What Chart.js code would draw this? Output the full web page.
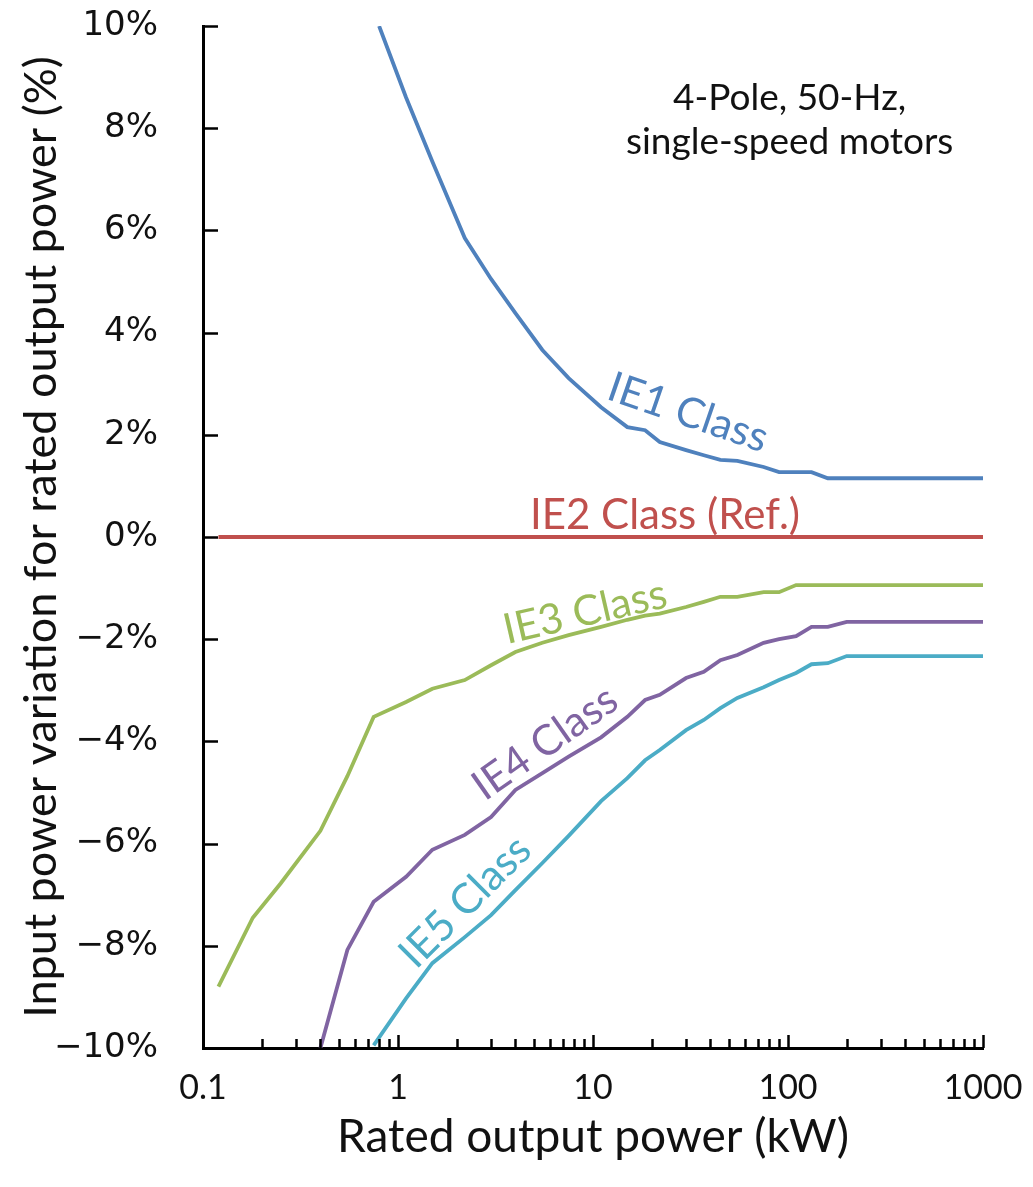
<!DOCTYPE html>
<html>
<head>
<meta charset="utf-8">
<script src="https://cdn.jsdelivr.net/npm/chart.js@4/dist/chart.umd.min.js"></script>
<style>
  html, body { margin: 0; padding: 0; background: #ffffff; }
  #wrap { width: 1033px; height: 1187px; }
</style>
</head>
<body>
<div id="wrap"><canvas id="c" width="1033" height="1187"></canvas></div>
<script>
// Input power change relative to IE2, by rated output (kW), 4-pole 50 Hz motors
const ie1Power = [0.8, 1.1, 1.5, 2.2, 3, 4, 5.5, 7.5, 11, 15, 18.5, 22, 30, 37, 45, 55, 75, 90, 110, 132, 160, 1000];
const ie1Delta = [10.0, 8.6, 7.35, 5.85, 5.05, 4.38, 3.66, 3.11, 2.54, 2.15, 2.09, 1.86, 1.70, 1.60, 1.51, 1.49, 1.37, 1.27, 1.27, 1.27, 1.15, 1.15];

const ie2Power = [0.12, 1000];
const ie2Delta = [0, 0];

const ie3Power = [0.12, 0.18, 0.25, 0.4, 0.55, 0.75, 1.1, 1.5, 2.2, 3, 4, 5.5, 7.5, 11, 15, 18.5, 22, 30, 37, 45, 55, 75, 90, 110, 1000];
const ie3Delta = [-8.8, -7.45, -6.78, -5.75, -4.68, -3.52, -3.23, -2.97, -2.8, -2.51, -2.25, -2.07, -1.92, -1.76, -1.62, -1.54, -1.5, -1.37, -1.27, -1.17, -1.17, -1.08, -1.08, -0.94, -0.94];

const ie4Power = [0.4, 0.55, 0.75, 1.1, 1.5, 2.2, 3, 4, 5.5, 7.5, 11, 15, 18.5, 22, 30, 37, 45, 55, 75, 90, 110, 132, 160, 200, 1000];
const ie4Delta = [-10.0, -8.08, -7.14, -6.65, -6.12, -5.83, -5.48, -4.95, -4.62, -4.30, -3.92, -3.52, -3.19, -3.09, -2.76, -2.64, -2.41, -2.31, -2.07, -2.0, -1.94, -1.76, -1.76, -1.66, -1.66];

const ie5Power = [0.75, 1.1, 1.5, 2.2, 3, 4, 5.5, 7.5, 11, 15, 18.5, 22, 30, 37, 45, 55, 75, 90, 110, 132, 160, 200, 1000];
const ie5Delta = [-9.95, -9.03, -8.34, -7.83, -7.40, -6.91, -6.38, -5.85, -5.17, -4.72, -4.37, -4.17, -3.78, -3.58, -3.35, -3.15, -2.94, -2.80, -2.66, -2.49, -2.47, -2.33, -2.33];

const seriesNames = ['IE1 Class', 'IE2 Class (Ref.)', 'IE3 Class', 'IE4 Class', 'IE5 Class'];
const xTickLabels = ['0.1', '1', '10', '100', '1000'];
const yTickValues = [-10, -8, -6, -4, -2, 0, 2, 4, 6, 8, 10];

const colors = ['#4F81BD', '#C0504D', '#9BBB59', '#8064A2', '#4BACC6'];

function toPoints(xs, ys) {
  return xs.map((x, i) => ({ x: x, y: ys[i] }));
}

const seriesPairs = [
  [ie1Power, ie1Delta],
  [ie2Power, ie2Delta],
  [ie3Power, ie3Delta],
  [ie4Power, ie4Delta],
  [ie5Power, ie5Delta]
];

const datasets = seriesPairs.map((p, i) => ({
  label: seriesNames[i],
  data: toPoints(p[0], p[1]),
  borderColor: colors[i],
  backgroundColor: colors[i],
  borderWidth: 3.8,
  pointRadius: 0,
  tension: 0,
  fill: false
}));

// In-plot labels, placed in data units (kW, %)
const curveLabels = [
  { i: 0, x: 30.7, y: 2.43, angle: 19 },
  { i: 1, x: 23.4, y: 0.43, angle: 0 },
  { i: 2, x: 9.1, y: -1.47, angle: -13 },
  { i: 3, x: 5.68, y: -4.03, angle: -35 },
  { i: 4, x: 2.21, y: -7.14, angle: -45 }
];
const noteLines = ['4-Pole, 50-Hz,', 'single-speed motors'];

const PLOT_LEFT = 203;
const PLOT_BOTTOM = 1048;

// Inward tick marks on both axes
const inwardTicks = {
  id: 'inwardTicks',
  afterDraw(chart) {
    const ctx = chart.ctx;
    const xs = chart.scales.x, ys = chart.scales.y;
    const area = chart.chartArea;
    ctx.save();
    ctx.strokeStyle = '#000';
    ctx.lineWidth = 2.5;
    ctx.beginPath();
    yTickValues.forEach(v => {
      const py = Math.round(ys.getPixelForValue(v)) + 0.5;
      ctx.moveTo(area.left, py);
      ctx.lineTo(area.left + 15, py);
    });
    for (let d = -1; d < 3; d++) {
      for (let m = 2; m <= 10; m++) {
        const v = m * Math.pow(10, d);
        const px = Math.round(xs.getPixelForValue(v)) + 0.5;
        const len = (m === 10) ? 13 : 9;
        ctx.moveTo(px, area.bottom);
        ctx.lineTo(px, area.bottom - len);
      }
    }
    ctx.stroke();
    ctx.restore();
  }
};

// Curve names and the motor note
const textLayer = {
  id: 'textLayer',
  afterDatasetsDraw(chart) {
    const ctx = chart.ctx;
    const xs = chart.scales.x, ys = chart.scales.y;
    ctx.save();
    ctx.textAlign = 'center';
    ctx.textBaseline = 'middle';
    ctx.font = '42px Lato';
    curveLabels.forEach(l => {
      ctx.save();
      ctx.translate(xs.getPixelForValue(l.x), ys.getPixelForValue(l.y));
      ctx.rotate(l.angle * Math.PI / 180);
      ctx.fillStyle = colors[l.i];
      ctx.fillText(seriesNames[l.i], 0, 0);
      ctx.restore();
    });
    ctx.fillStyle = '#111';
    ctx.font = '37px Lato';
    const nx = xs.getPixelForValue(102);
    ctx.fillText(noteLines[0], nx, ys.getPixelForValue(8.59));
    ctx.fillText(noteLines[1], nx, ys.getPixelForValue(7.73));
    ctx.restore();
  }
};

new Chart(document.getElementById('c'), {
  type: 'line',
  data: { datasets: datasets },
  options: {
    responsive: false,
    animation: false,
    layout: { padding: { top: 26, right: 50, left: 0, bottom: 0 } },
    plugins: { legend: { display: false }, tooltip: { enabled: false } },
    scales: {
      x: {
        type: 'logarithmic',
        min: 0.1,
        max: 1000,
        afterBuildTicks(scale) {
          scale.ticks = xTickLabels.map(t => ({ value: parseFloat(t) }));
        },
        afterFit(scale) {
          scale.height = 1187 - PLOT_BOTTOM;
          scale.paddingLeft = 0;
          scale.paddingRight = 0;
        },
        ticks: {
          autoSkip: false,
          maxRotation: 0,
          padding: 20,
          color: '#111',
          font: { family: 'Lato', size: 34 },
          callback: (v, i) => xTickLabels[i]
        },
        grid: { display: true, drawOnChartArea: false, drawTicks: false },
        border: { display: true, color: '#000', width: 3 },
        title: {
          display: true,
          text: 'Rated output power (kW)',
          color: '#111',
          font: { family: 'Lato', size: 46 },
          padding: { top: 0, bottom: 22 }
        }
      },
      y: {
        type: 'linear',
        min: -10,
        max: 10,
        afterBuildTicks(scale) {
          scale.ticks = yTickValues.map(v => ({ value: v }));
        },
        afterFit(scale) {
          scale.width = PLOT_LEFT;
          scale.paddingTop = 0;
          scale.paddingBottom = 0;
        },
        ticks: {
          padding: 45,
          color: '#111',
          font: { family: 'DejaVu Sans', size: 34 },
          callback: v => (v < 0 ? '\u2212' + Math.abs(v) : String(v)) + '%'
        },
        grid: { display: true, drawOnChartArea: false, drawTicks: false },
        border: { display: true, color: '#000', width: 3 },
        title: {
          display: true,
          text: 'Input power variation for rated output power (%)',
          color: '#111',
          font: { family: 'Lato', size: 45 },
          padding: { top: 14, bottom: 0 }
        }
      }
    }
  },
  plugins: [inwardTicks, textLayer]
});
</script>
</body>
</html>
